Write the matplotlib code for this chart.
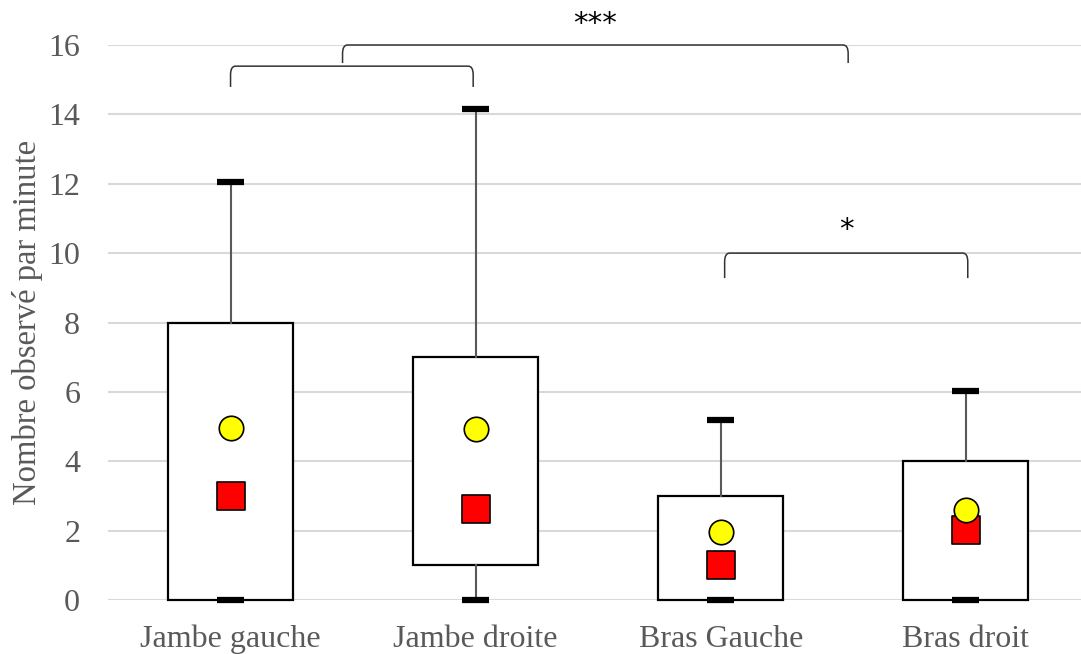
import matplotlib
matplotlib.use("Agg")
import matplotlib.pyplot as plt
from matplotlib.path import Path
from matplotlib.patches import PathPatch

categories = ["Jambe gauche", "Jambe droite", "Bras Gauche", "Bras droit"]
whisker_low = [0, 0, 0, 0]
q1 = [0, 1, 0, 0]
q3 = [8, 7, 3, 4]
whisker_high = [12.05, 14.15, 5.19, 6.02]
means = [4.96, 4.93, 1.96, 2.59]
medians = [3.0, 2.62, 1.0, 2.02]

# significance brackets: (x_start, x_end, y_top, y_leg_bottom, label, label_y)
brackets = [
    (0.0, 0.99, 15.39, 14.79, None, None),
    (0.457, 2.52, 16.0, 15.48, "***", 16.6),
    (2.016, 3.008, 10.0, 9.28, "*", 10.66),
]

serif = ["Liberation Serif", "DejaVu Serif"]
gray = "#595959"

fig = plt.figure(figsize=(10.81, 6.54), dpi=100)
ax = fig.add_axes([108 / 1081, 1 - 600 / 654, 1 - 108 / 1081, (600 - 45) / 654])

stats = []
for i, c in enumerate(categories):
    stats.append(dict(label=c, whislo=whisker_low[i], q1=q1[i], med=medians[i],
                      q3=q3[i], whishi=whisker_high[i], fliers=[]))

pos = list(range(len(categories)))
art = ax.bxp(stats, positions=pos, widths=0.51, patch_artist=True, showfliers=False,
             capwidths=0.11,
             boxprops=dict(facecolor="white", edgecolor="black", linewidth=1.6),
             whiskerprops=dict(color=gray, linewidth=1.5),
             capprops=dict(color="black", linewidth=4.5, solid_capstyle="butt"),
             medianprops=dict(visible=False), zorder=2)
for key in ("caps", "whiskers", "boxes"):
    for a in art[key]:
        a.set_clip_on(False)
for a in art["caps"]:
    a.set_zorder(3)

ax.scatter(pos, medians, marker="s", s=380, c="#ff0000", edgecolors="black",
           linewidths=1.2, zorder=4)
ax.scatter(pos, means, marker="o", s=310, c="#ffff00", edgecolors="black",
           linewidths=1.2, zorder=5)

for x0, x1, yt, yb, lab, ly in brackets:
    r = 0.02
    ry = 0.25
    verts = [(x0, yb), (x0, yt - ry), (x0, yt), (x0 + r, yt),
             (x1 - r, yt), (x1, yt), (x1, yt - ry), (x1, yb)]
    codes = [Path.MOVETO, Path.LINETO, Path.CURVE3, Path.CURVE3,
             Path.LINETO, Path.CURVE3, Path.CURVE3, Path.LINETO]
    ax.add_patch(PathPatch(Path(verts, codes), fill=False, edgecolor="#333333",
                           linewidth=1.1, clip_on=False, zorder=6))
    if lab:
        ax.text((x0 + x1) / 2, ly, lab,
                ha="center", va="center", fontsize=21, color="black",
                family="DejaVu Sans")

ax.set_xlim(-0.5, 3.47)
ax.set_ylim(0, 16)
ax.set_yticks(range(0, 17, 2))
ax.set_xticks(pos)
ax.set_xticklabels(categories)
ax.grid(axis="y", color="#d9d9d9", linewidth=1.5)
ax.set_axisbelow(True)
for s in ax.spines.values():
    s.set_visible(False)
ax.tick_params(length=0, labelsize=23, labelcolor=gray)
ax.tick_params(axis="x", pad=18)
ax.tick_params(axis="y", pad=20)
for lbl in ax.get_xticklabels() + ax.get_yticklabels():
    lbl.set_family(serif)
ax.set_ylabel("Nombre observé par minute", family=serif, fontsize=23.5,
              color=gray, labelpad=4)

fig.savefig("out.png", dpi=100)
